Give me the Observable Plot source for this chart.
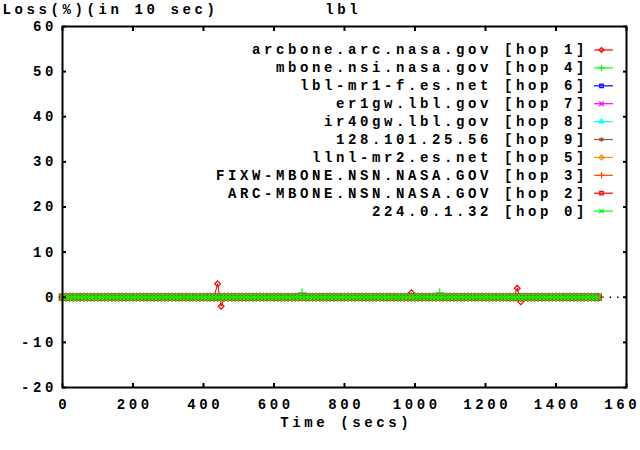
<!DOCTYPE html>
<html>
<head>
<meta charset="utf-8">
<script src="https://cdn.jsdelivr.net/npm/d3@7"></script>
<script src="https://cdn.jsdelivr.net/npm/@observablehq/plot@0.6"></script>
<style>
  html, body { margin: 0; padding: 0; background: white; }
</style>
</head>
<body>
<div id="chart"></div>
<script>
// ---- data ----
const seriesNames = [
  "arcbone.arc.nasa.gov [hop 1]",
  "mbone.nsi.nasa.gov [hop 4]",
  "lbl-mr1-f.es.net [hop 6]",
  "er1gw.lbl.gov [hop 7]",
  "ir40gw.lbl.gov [hop 8]",
  "128.101.25.56 [hop 9]",
  "llnl-mr2.es.net [hop 5]",
  "FIXW-MBONE.NSN.NASA.GOV [hop 3]",
  "ARC-MBONE.NSN.NASA.GOV [hop 2]",
  "224.0.1.32 [hop 0]"
];
const seriesColors = ["#ff0000", "#00ff00", "#0000ff", "#ff00ff", "#00ffff", "#a0522d", "#ff8c00", "#ff4500", "#ff0000", "#00ff00"];
const seriesSymbols = ["diamond2", "plus", "square2", "times", "triangle2", "asterisk", "diamond2", "plus", "square2", "times"];

// sampling instants (loss measured in 10 sec intervals)
const times = d3.range(0, 1521, 10);
// non-zero loss samples per series: [time, loss%]; all other samples are 0
const lossArcbone = [[440, 3], [450, -2], [990, 1], [1290, 2], [1300, -1]];
const lossMboneNsi = [[680, 1], [1070, 1]];
const lossLblMr1 = [];
const lossEr1gw = [];
const lossIr40gw = [];
const loss128 = [];
const lossLlnl = [];
const lossFixw = [];
const lossArcMbone = [];
const loss224 = [];
const seriesLoss = [lossArcbone, lossMboneNsi, lossLblMr1, lossEr1gw, lossIr40gw, loss128, lossLlnl, lossFixw, lossArcMbone, loss224];

const xTicks = [0, 200, 400, 600, 800, 1000, 1200, 1400, 1600];
const yTicks = [-20, -10, 0, 10, 20, 30, 40, 50, 60];
const titleLeft = "Loss(%)(in 10 sec)";
const titleCenter = "lbl";
const xLabel = "Time (secs)";

// ---- build ----
const LS = 3.6; // letter spacing
const hline = { draw(ctx) { ctx.moveTo(-9.4, 0); ctx.lineTo(9.4, 0); } };
const dataR = { diamond2: 2.6, plus: 3, square2: 3.8, times: 3.4, triangle2: 3, asterisk: 3 };

const marks = [];
marks.push(Plot.ruleY([0], { stroke: "black", strokeWidth: 1.5, strokeDasharray: "1.5,6" }));

seriesNames.forEach((name, i) => {
  const m = new Map(seriesLoss[i]);
  const data = times.map(t => ({ t, v: m.has(t) ? m.get(t) : 0 }));
  marks.push(Plot.line(data, { x: "t", y: "v", stroke: seriesColors[i], strokeWidth: 1 }));
  marks.push(Plot.dot(data, { x: "t", y: "v", stroke: seriesColors[i], symbol: seriesSymbols[i], r: dataR[seriesSymbols[i]], strokeWidth: 1.2, fill: "none" }));
});

// legend
seriesNames.forEach((name, i) => {
  const dy = 23.5 + 17.9 * i;
  marks.push(Plot.text([name], { text: d => d, frameAnchor: "top-right", dx: -42 + LS, dy, textAnchor: "end", lineAnchor: "middle", fill: "black" }));
  marks.push(Plot.dot([name], { frameAnchor: "top-right", dx: -23, dy, symbol: hline, stroke: seriesColors[i], strokeWidth: 1.2 }));
  marks.push(Plot.dot([name], { frameAnchor: "top-right", dx: -25, dy, symbol: seriesSymbols[i], r: 2.2, stroke: seriesColors[i], strokeWidth: 1.2, fill: "none" }));
});

// axes (inward ticks on all four sides)
marks.push(Plot.axisY(yTicks, { anchor: "left", tickSize: 0, tickPadding: 5.4, tickFormat: d => String(d), label: null }));
marks.push(Plot.axisY(yTicks, { anchor: "left", tickSize: 4, dx: 4, tickFormat: () => "", label: null, strokeWidth: 2 }));
marks.push(Plot.axisY(yTicks, { anchor: "right", tickSize: 4, dx: -4, tickFormat: () => "", label: null, strokeWidth: 2 }));
marks.push(Plot.axisX(xTicks, { anchor: "bottom", tickSize: 0, tickPadding: 12, dx: LS / 2, tickFormat: d => String(d), label: null }));
marks.push(Plot.axisX(xTicks, { anchor: "bottom", tickSize: 4, dy: -4, tickFormat: () => "", label: null, strokeWidth: 2 }));
marks.push(Plot.axisX(xTicks, { anchor: "top", tickSize: 4, dy: 4, tickFormat: () => "", label: null, strokeWidth: 2 }));
marks.push(Plot.frame({ stroke: "black", strokeWidth: 2 }));

// titles
marks.push(Plot.text([titleLeft], { text: d => d, frameAnchor: "top-left", dx: -60, dy: -17, textAnchor: "start", lineAnchor: "middle", fill: "black" }));
marks.push(Plot.text([titleCenter], { text: d => d, frameAnchor: "top", dx: LS / 2 - 3, dy: -17, lineAnchor: "middle", fill: "black" }));
marks.push(Plot.text([xLabel], { text: d => d, frameAnchor: "bottom", dx: LS / 2, dy: 35, lineAnchor: "middle", fill: "black" }));

const chart = Plot.plot({
  width: 640,
  height: 450,
  marginLeft: 62,
  marginRight: 14,
  marginTop: 26,
  marginBottom: 63,
  x: { domain: [0, 1600] },
  y: { domain: [-20, 60] },
  style: {
    fontFamily: "'Liberation Mono', 'DejaVu Sans Mono', monospace",
    fontWeight: "bold",
    fontSize: "14px",
    letterSpacing: LS + "px",
    background: "white",
    color: "black",
    overflow: "visible"
  },
  marks
});
document.getElementById("chart").appendChild(chart);
</script>
</body>
</html>
